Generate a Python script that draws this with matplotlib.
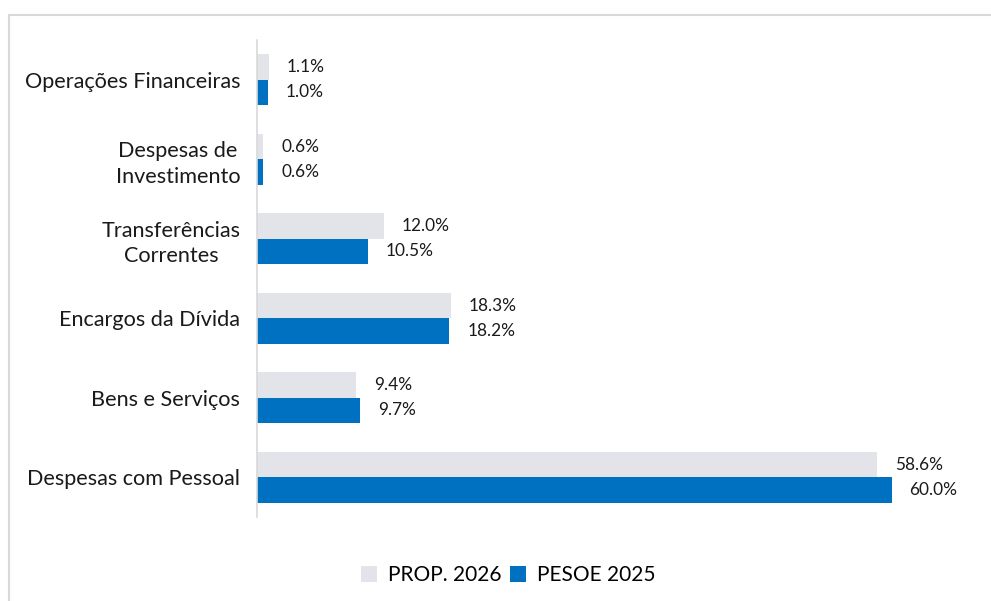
import matplotlib.pyplot as plt
import matplotlib.patches as patches
import numpy as np

# data (bottom to top, as drawn)
categories = ["Despesas com Pessoal", "Bens e Serviços", "Encargos da Dívida",
              "Transferências\nCorrentes", "Despesas de\nInvestimento", "Operações Financeiras"]
prop_2026 = [58.6, 9.4, 18.3, 12.0, 0.6, 1.1]
pesoe_2025 = [60.0, 9.7, 18.2, 10.5, 0.6, 1.0]
series_names = ["PROP. 2026", "PESOE 2025"]

GREY = '#E3E4E9'
BLUE = '#0070C0'
FONT = ['Lato', 'DejaVu Sans']

plt.rcParams['font.family'] = FONT

W, H = 991, 601
fig = plt.figure(figsize=(W / 100, H / 100), dpi=100)

# outer frame (top + left only visible)
frame = patches.Rectangle((9 / W, -0.1), 1.2, (H - 15) / H + 0.1, transform=fig.transFigure,
                          fill=False, edgecolor='#D9D9D9', linewidth=1.5)
fig.add_artist(frame)

ax_left, ax_right = 257 / W, 955 / W
ax_top, ax_bot = 1 - 40 / H, 1 - 517 / H
ax = fig.add_axes([ax_left, ax_bot, ax_right - ax_left, ax_top - ax_bot])

y = np.arange(len(categories))
h = 0.32
ax.barh(y + h / 2, prop_2026, height=h, color=GREY, label=series_names[0])
ax.barh(y - h / 2, pesoe_2025, height=h, color=BLUE, label=series_names[1])

for yi, v in zip(y, prop_2026):
    ax.annotate(f"{v:.1f}%", (v, yi + h / 2), xytext=(13, 0), textcoords='offset points',
                va='center', ha='left', fontsize=12.4, color='#1a1a1a')
for yi, v in zip(y, pesoe_2025):
    ax.annotate(f"{v:.1f}%", (v, yi - h / 2), xytext=(13, 0), textcoords='offset points',
                va='center', ha='left', fontsize=12.4, color='#1a1a1a')

ax.set_xlim(0, 66)
ax.set_ylim(-0.5, len(categories) - 0.5)
ax.set_yticks(y)
ax.set_yticklabels(categories, fontsize=15.6, color='#1a1a1a', linespacing=1.35,
                   multialignment='center')
ax.tick_params(axis='y', length=0, pad=12)
ax.set_xticks([])
for s in ['top', 'right', 'bottom']:
    ax.spines[s].set_visible(False)
ax.spines['left'].set_color('#D9D9D9')
ax.spines['left'].set_linewidth(1.2)

fig.legend(loc='center', bbox_to_anchor=(508 / W, 1 - 575 / H), ncol=2, frameon=False,
           fontsize=15, handlelength=0.8, handleheight=0.8, handletextpad=0.5,
           columnspacing=0.4)

fig.savefig('out.png', dpi=100, facecolor='white')
